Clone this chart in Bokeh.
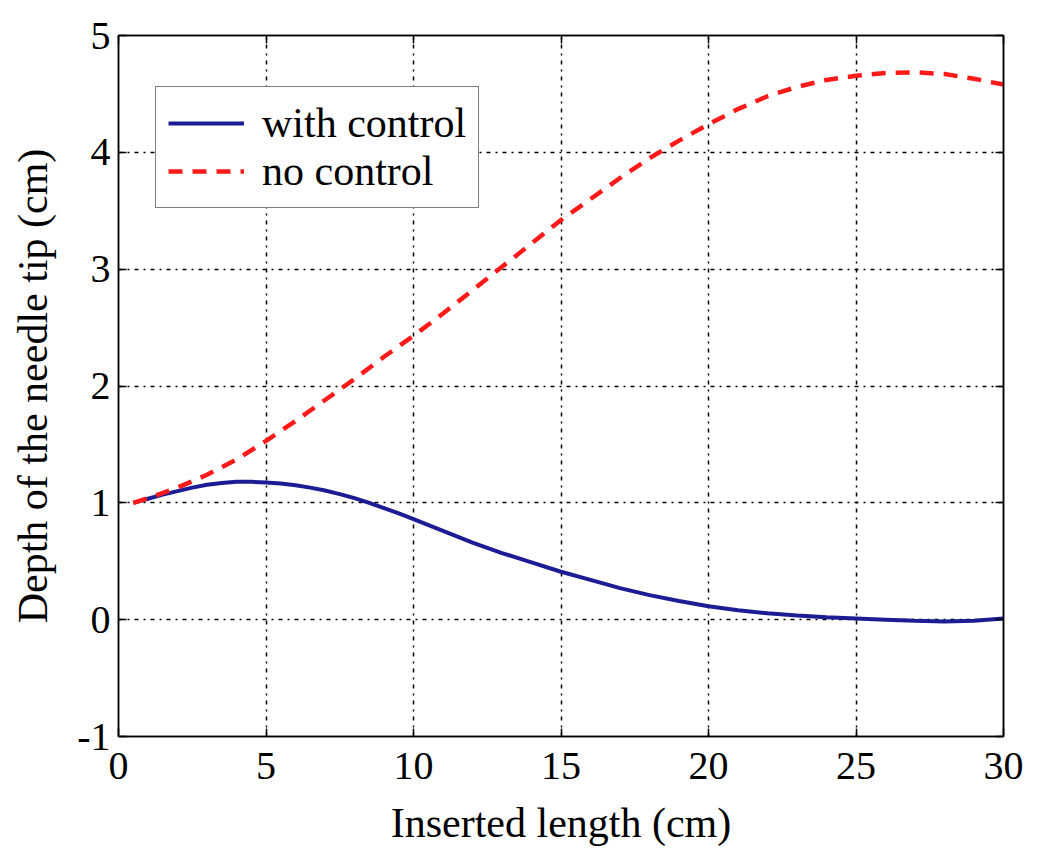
from bokeh.plotting import figure
from bokeh.models import LinearAxis, Legend, LegendItem, FixedTicker, Range1d
from bokeh.embed import file_html
from bokeh.resources import INLINE

x_with = [0.5, 1, 1.5, 2, 2.5, 3, 3.5, 4, 4.5, 5, 5.5, 6, 6.5, 7, 7.5, 8, 8.5, 9, 9.5, 10,
          11, 12, 13, 14, 15, 16, 17, 18, 19, 20, 21, 22, 23, 24, 25, 26, 27, 28, 29, 30]
y_with = [1.0, 1.035, 1.07, 1.10, 1.13, 1.155, 1.17, 1.18, 1.18, 1.175, 1.165, 1.15, 1.13,
          1.105, 1.075, 1.04, 1.0, 0.955, 0.91, 0.86, 0.76, 0.66, 0.57, 0.49, 0.41, 0.34,
          0.27, 0.21, 0.16, 0.115, 0.08, 0.055, 0.035, 0.02, 0.01, 0.0, -0.01, -0.015,
          -0.01, 0.01]
x_no = [0.5, 1, 2, 3, 4, 5, 6, 7, 8, 9, 10, 11, 12, 13, 14, 15, 16, 17, 18, 19, 20,
        21, 22, 23, 24, 25, 26, 27, 28, 29, 30]
y_no = [1.0, 1.04, 1.13, 1.24, 1.37, 1.53, 1.7, 1.88, 2.06, 2.25, 2.43, 2.62, 2.82, 3.02,
        3.22, 3.42, 3.6, 3.78, 3.95, 4.1, 4.24, 4.37, 4.48, 4.56, 4.62, 4.655, 4.68, 4.685,
        4.67, 4.63, 4.58]
x_ticks = [0, 5, 10, 15, 20, 25, 30]
y_ticks = [-1, 0, 1, 2, 3, 4, 5]
labels = ["with control", "no control"]

FONT = "Liberation Serif"

p = figure(width=1040, height=850, output_backend="svg", toolbar_location=None,
           x_range=Range1d(0, 30), y_range=Range1d(-1, 5),
           min_border_left=118, min_border_right=37, min_border_top=35, min_border_bottom=114)
p.background_fill_color = "white"
p.border_fill_color = "white"
p.outline_line_color = "black"
p.outline_line_width = 1.5

for ax in p.xaxis + p.yaxis:
    ax.major_label_text_font = FONT
    ax.major_label_text_font_size = "40px"
    ax.major_label_text_color = "black"
    ax.axis_label_text_font = FONT
    ax.axis_label_text_font_size = "42px"
    ax.axis_label_text_font_style = "normal"
    ax.axis_label_text_color = "black"
    ax.major_tick_in = 8
    ax.major_tick_out = 0
    ax.minor_tick_line_color = None
    ax.axis_line_color = "black"
    ax.axis_line_width = 1.5
    ax.major_tick_line_width = 1.5

p.xaxis.ticker = FixedTicker(ticks=x_ticks)
p.yaxis.ticker = FixedTicker(ticks=y_ticks)
p.yaxis.major_label_overrides = {-1: "-1"}
p.xaxis.axis_label = "Inserted length (cm)"
p.yaxis.axis_label = "Depth of the needle tip (cm)"
p.xaxis.major_label_standoff = 16
p.yaxis.major_label_standoff = 8
p.xaxis.axis_label_standoff = 18
p.yaxis.axis_label_standoff = 18

top = LinearAxis(ticker=FixedTicker(ticks=x_ticks), major_label_text_font_size="0px",
                 major_tick_in=8, major_tick_out=0, minor_tick_line_color=None,
                 axis_line_color="black", axis_line_width=1.5, major_tick_line_width=1.5)
right = LinearAxis(ticker=FixedTicker(ticks=y_ticks), major_label_text_font_size="0px",
                   major_tick_in=8, major_tick_out=0, minor_tick_line_color=None,
                   axis_line_color="black", axis_line_width=1.5, major_tick_line_width=1.5)
top.major_label_text_alpha = 0
right.major_label_text_alpha = 0
top.major_label_standoff = 0
right.major_label_standoff = 0
p.add_layout(top, "above")
p.add_layout(right, "right")

for g in p.xgrid:
    g.ticker = FixedTicker(ticks=x_ticks)
for g in p.ygrid:
    g.ticker = FixedTicker(ticks=y_ticks)
for g in p.xgrid + p.ygrid:
    g.grid_line_color = "black"
    g.grid_line_dash = "4 5 2 5"
    g.grid_line_width = 1.5

r1 = p.line(x_with, y_with, line_color="#1c1c94", line_width=4)
r2 = p.line(x_no, y_no, line_color="#ff1a1a", line_width=4.5, line_dash="14 10")

legend = Legend(items=[LegendItem(label=labels[0], renderers=[r1]),
                       LegendItem(label=labels[1], renderers=[r2])],
                location=(37, 528))
legend.label_text_font = FONT
legend.label_text_font_size = "42px"
legend.label_text_color = "black"
legend.border_line_color = "black"
legend.border_line_width = 1.5
legend.background_fill_alpha = 1
legend.glyph_width = 76
legend.glyph_height = 40
legend.label_standoff = 18
legend.padding = 12
legend.spacing = 0
legend.label_height = 40
legend.margin = 0
p.add_layout(legend, "center")

open("out.html", "w").write(file_html(p, INLINE))
